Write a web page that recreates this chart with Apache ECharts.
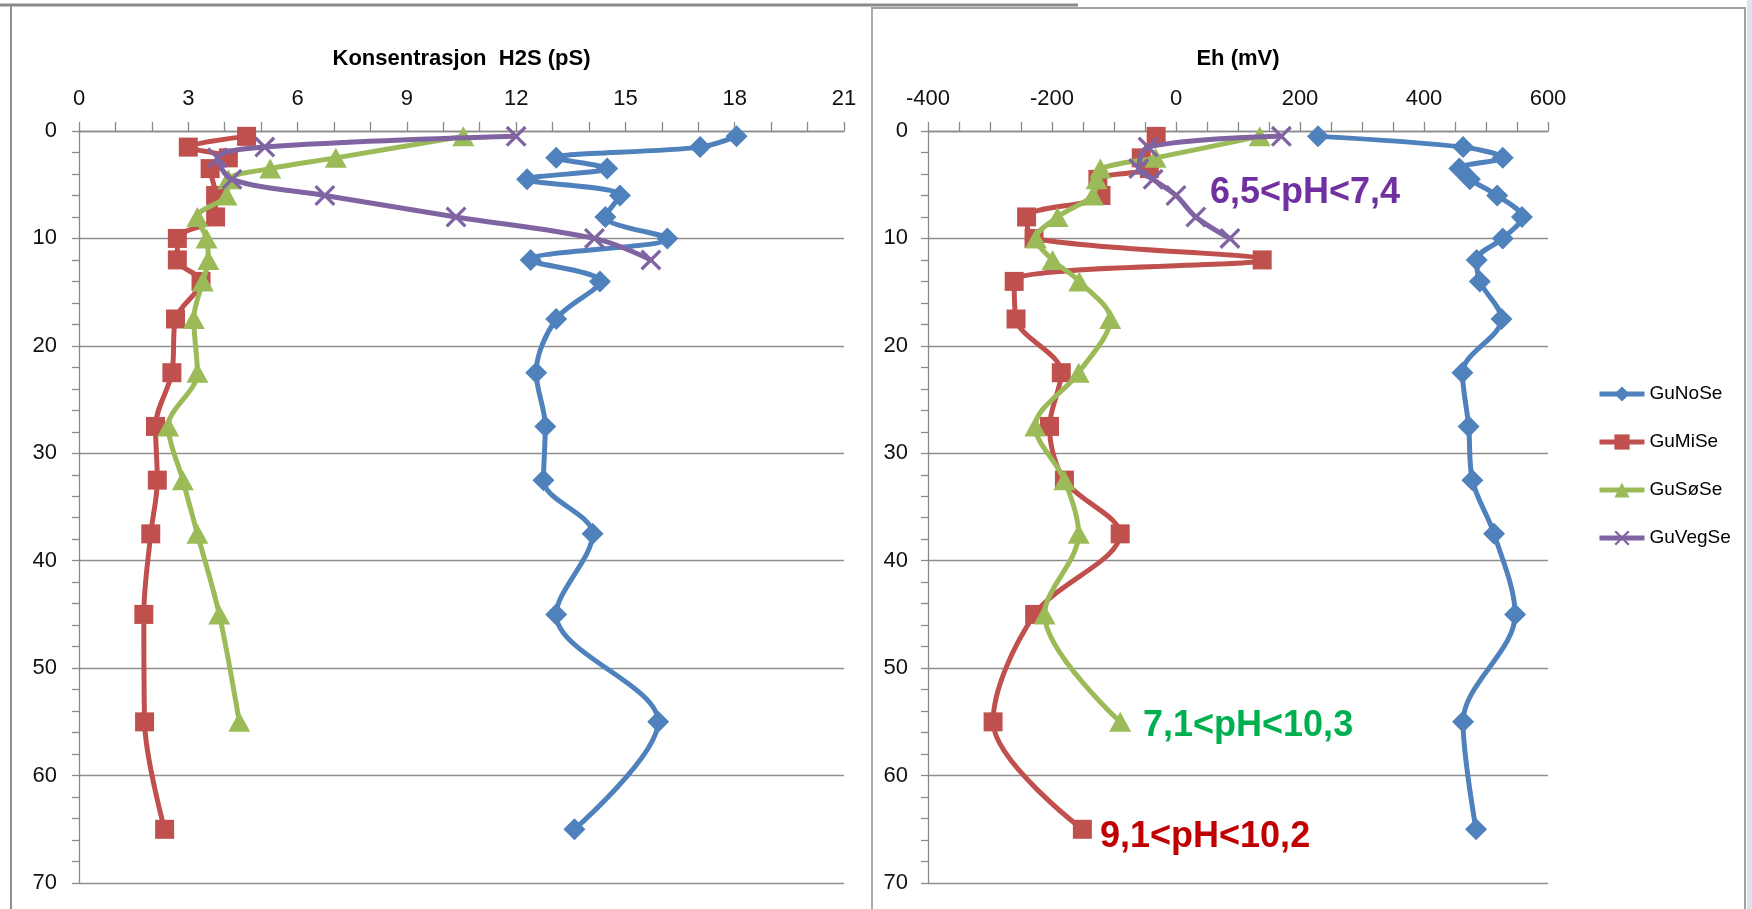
<!DOCTYPE html>
<html>
<head>
<meta charset="utf-8">
<script src="https://cdn.jsdelivr.net/npm/echarts@6/dist/echarts.min.js"></script>
<style>
html,body{margin:0;padding:0;background:#ffffff;}
#c{width:1752px;height:909px;}
</style>
</head>
<body>
<div id="c"></div>
<script>
// ---------- DATA (depth in cm) ----------
const seriesNames = ['GuNoSe', 'GuMiSe', 'GuSøSe', 'GuVegSe'];

// Left panel: Konsentrasjon H2S (pS)
const blueDepth   = [0.5, 1.5, 2.5, 3.5, 4.5, 6, 8, 10, 12, 14, 17.5, 22.5, 27.5, 32.5, 37.5, 45, 55, 65];
const blueH2S     = [18.05, 17.05, 13.1, 14.5, 12.3, 14.85, 14.45, 16.15, 12.4, 14.3, 13.1, 12.55, 12.8, 12.75, 14.1, 13.1, 15.9, 13.6];
const redDepthL   = [0.5, 1.5, 2.5, 3.5, 6, 8, 10, 12, 14, 17.5, 22.5, 27.5, 32.5, 37.5, 45, 55, 65];
const redH2S      = [4.6, 3.0, 4.1, 3.6, 3.75, 3.75, 2.7, 2.7, 3.35, 2.65, 2.55, 2.1, 2.15, 1.97, 1.78, 1.8, 2.35];
const greenDepthL = [0.5, 2.5, 3.5, 4.5, 6, 8, 10, 12, 14, 17.5, 22.5, 27.5, 32.5, 37.5, 45, 55];
const greenH2S    = [10.55, 7.05, 5.25, 4.1, 4.05, 3.25, 3.5, 3.55, 3.4, 3.15, 3.25, 2.45, 2.85, 3.25, 3.85, 4.4];
const purpleDepthL= [0.5, 1.5, 2.5, 4.5, 6, 8, 10, 12];
const purpleH2S   = [12.0, 5.1, 3.8, 4.2, 6.75, 10.35, 14.15, 15.7];

// Right panel: Eh (mV)
const blueEh      = [229, 463, 527, 457, 474, 518, 558, 527, 485, 490, 525, 462, 472, 478, 513, 547, 463, 484];
const redDepthR   = [0.5, 2.5, 3.5, 4.5, 6, 8, 10, 12, 14, 17.5, 22.5, 27.5, 32.5, 37.5, 45, 55, 65];
const redEh       = [-32, -56, -43, -126, -121, -241, -229, 139, -261, -258, -185, -204, -180, -90, -228, -295, -151];
const greenDepthR = [0.5, 2.5, 3.5, 4.5, 6, 8, 10, 12, 14, 17.5, 22.5, 27.5, 32.5, 37.5, 45, 55];
const greenEh     = [135, -33, -122, -128, -134, -191, -226, -199, -156, -106, -157, -227, -180, -157, -212, -90];
const purpleDepthR= [0.5, 1.5, 3.5, 4.5, 6, 8, 10];
const purpleEh    = [170, -45, -60, -37, 0, 32, 87];

// Axis ticks
const h2sTicks   = {min: 0, max: 21, interval: 3};
const ehTicks    = {min: -400, max: 600, interval: 200};
const depthTicks = {min: 0, max: 70, interval: 10};

// Annotations
const phLabels = [
  {text: '6,5<pH<7,4',  color: '#7030A0'},
  {text: '7,1<pH<10,3', color: '#00B050'},
  {text: '9,1<pH<10,2', color: '#C00000'}
];

// ---------- STYLE ----------
const FONT = "'Liberation Sans', Arial, sans-serif";
const colors = ['#4F81BD', '#C0504D', '#9BBB59', '#8064A2'];
const crossPath = 'path://M0,1.1 L1.1,0 L10,8.9 L8.9,10 Z M8.9,0 L10,1.1 L1.1,10 L0,8.9 Z';
const symbols = ['diamond', 'rect', 'triangle', crossPath];
const symbolSizes = [22, 19, [22, 20], 21];
const axisGray = '#8a8a8a';

function pairs(vals, depths) { return vals.map((v, i) => [v, depths[i]]); }

function xAxisCfg(gi, t, name, minorSplit) {
  return {
    type: 'value', gridIndex: gi, position: 'top',
    min: t.min, max: t.max, interval: t.interval,
    name: name, nameLocation: 'middle', nameGap: 61,
    nameTextStyle: {fontSize: 22, fontWeight: 'bold', color: '#000', fontFamily: FONT},
    axisLine: {show: true, onZero: false, lineStyle: {color: axisGray, width: 1.3}},
    axisTick: {show: true, inside: false, length: 9, lineStyle: {color: axisGray, width: 1.3}},
    minorTick: {show: true, splitNumber: minorSplit, length: 9, lineStyle: {color: axisGray, width: 1.3}},
    splitLine: {show: false},
    axisLabel: {fontSize: 22, color: '#111', margin: 21, fontFamily: FONT}
  };
}
function yAxisCfg(gi, margin) {
  return {
    type: 'value', gridIndex: gi, inverse: true,
    min: depthTicks.min, max: depthTicks.max, interval: depthTicks.interval,
    axisLine: {show: true, onZero: false, lineStyle: {color: axisGray, width: 1.3}},
    axisTick: {show: true, inside: false, length: 7, lineStyle: {color: axisGray, width: 1.3}},
    minorTick: {show: true, splitNumber: 5, length: 7, lineStyle: {color: axisGray, width: 1.3}},
    splitLine: {show: true, lineStyle: {color: '#8e8e8e', width: 1.3}},
    axisLabel: {fontSize: 22, color: '#111', margin: margin, fontFamily: FONT}
  };
}
function lineSeries(idx, gi, data) {
  return {
    name: seriesNames[idx], type: 'line', xAxisIndex: gi, yAxisIndex: gi,
    data: data, smooth: 0.33,
    symbol: symbols[idx], symbolSize: symbolSizes[idx],
    itemStyle: {color: colors[idx]},
    lineStyle: {color: colors[idx], width: 5},
    z: 2 + idx, animation: false
  };
}

const legendCenters = [389, 437, 485, 533];

const chart = echarts.init(document.getElementById('c'));
chart.setOption({
  backgroundColor: '#ffffff',
  animation: false,
  grid: [
    {left: 79, top: 131, width: 765, height: 752},
    {left: 928, top: 131, width: 620, height: 752}
  ],
  xAxis: [
    xAxisCfg(0, h2sTicks, 'Konsentrasjon  H2S (pS)', 3),
    xAxisCfg(1, ehTicks, 'Eh (mV)', 4)
  ],
  yAxis: [yAxisCfg(0, 22), yAxisCfg(1, 20)],
  legend: seriesNames.map((n, i) => ({
    data: [n], orient: 'vertical', left: 1592, top: legendCenters[i] - 10,
    itemWidth: 45, itemHeight: 19, selectedMode: false,
    lineStyle: {width: 5},
    textStyle: {fontSize: 19, color: '#000', fontFamily: FONT, lineHeight: 20}
  })),
  series: [
    lineSeries(0, 0, pairs(blueH2S, blueDepth)),
    lineSeries(1, 0, pairs(redH2S, redDepthL)),
    lineSeries(2, 0, pairs(greenH2S, greenDepthL)),
    lineSeries(3, 0, pairs(purpleH2S, purpleDepthL)),
    lineSeries(0, 1, pairs(blueEh, blueDepth)),
    lineSeries(1, 1, pairs(redEh, redDepthR)),
    lineSeries(2, 1, pairs(greenEh, greenDepthR)),
    lineSeries(3, 1, pairs(purpleEh, purpleDepthR))
  ],
  graphic: [
    {type: 'line', shape: {x1: 0, y1: 5, x2: 1078, y2: 5}, style: {stroke: '#8a8a8a', lineWidth: 3}, silent: true},
    {type: 'line', shape: {x1: 871, y1: 8, x2: 1746, y2: 8}, style: {stroke: '#a2a2a2', lineWidth: 2}, silent: true},
    {type: 'line', shape: {x1: 11, y1: 6, x2: 11, y2: 909}, style: {stroke: '#8f8f8f', lineWidth: 2}, silent: true},
    {type: 'line', shape: {x1: 872, y1: 8, x2: 872, y2: 909}, style: {stroke: '#8f8f8f', lineWidth: 1.5}, silent: true},
    {type: 'line', shape: {x1: 1745, y1: 8, x2: 1745, y2: 909}, style: {stroke: '#a2a2a2', lineWidth: 2}, silent: true},
    {type: 'rect', shape: {x: 1747, y: 0, width: 5, height: 909}, style: {fill: '#dbe4ee'}, silent: true},
    {type: 'text', left: 1210, top: 175, style: {text: phLabels[0].text, fill: phLabels[0].color, font: 'bold 36px ' + FONT}, silent: true},
    {type: 'text', left: 1143, top: 708, style: {text: phLabels[1].text, fill: phLabels[1].color, font: 'bold 36px ' + FONT}, silent: true},
    {type: 'text', left: 1100, top: 819, style: {text: phLabels[2].text, fill: phLabels[2].color, font: 'bold 36px ' + FONT}, silent: true}
  ]
});
</script>
</body>
</html>
